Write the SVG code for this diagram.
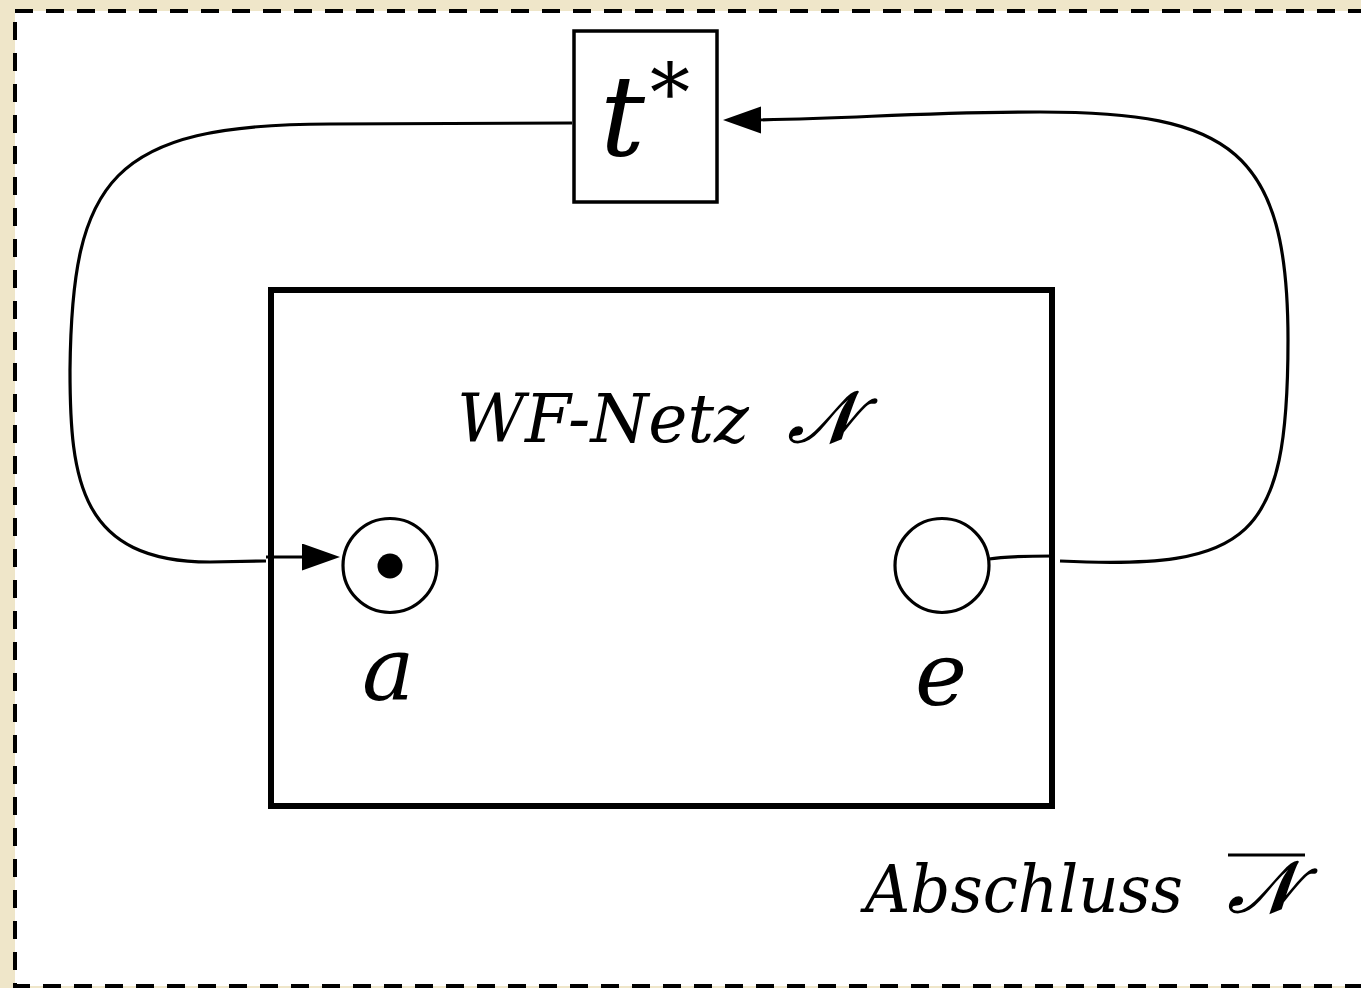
<svg xmlns="http://www.w3.org/2000/svg" width="1361" height="988" viewBox="0 0 1361 988">
<defs>
<style>
.bg{fill:#efe6c9}
.frame{fill:#ffffff;stroke:#000;stroke-width:4;stroke-dasharray:18 13}
.box{fill:#fff;stroke:#000;stroke-width:3.5}
.net{fill:none;stroke:#000;stroke-width:6}
.place{fill:#fff;stroke:#000;stroke-width:3.2}
.arc{fill:none;stroke:#000;stroke-width:3.2}
.sym{font-family:"DejaVu Serif","Liberation Serif",serif;font-style:italic;fill:#000;stroke:#000;stroke-width:1.6}
.it{font-family:"DejaVu Serif",serif;font-style:italic;fill:#000}
</style>
<marker id="arr" markerUnits="userSpaceOnUse" markerWidth="40" markerHeight="30" refX="28" refY="13.5" orient="auto">
<path d="M0,0 L38,13.5 L0,27 z" fill="#000"/>
</marker>
</defs>
<rect class="bg" x="0" y="0" width="1361" height="988"/>
<rect class="frame" x="15" y="11" width="1380" height="975"/>
<g id="node-wfnetz">
<rect class="net" x="271" y="290" width="781" height="516"/>
<text class="it" x="457" y="442" font-size="68" textLength="292" lengthAdjust="spacingAndGlyphs">WF-Netz</text>
<text class="sym" x="788" y="442" font-size="72">𝒩</text>
</g>
<g id="connectors">
<path class="arc" d="M572 123 L330 124 C110 124 72 180 70 370 C70 480 80 562 210 562 L266 561 M266 557 L330 557" marker-end="url(#arr)"/>
<path class="arc" d="M989 559 C1005 556 1030 556 1053 556"/>
<path class="arc" d="M1060 561 C1250 570 1288 540 1288 340 C1288 150 1230 112 1040 112 C900 112 850 120 733 120" marker-end="url(#arr)"/>
</g>
<g id="node-tstar">
<rect class="box" x="574" y="31" width="143" height="171"/>
<text class="it" x="600" y="155" font-size="112">t</text>
<text x="650" y="121" font-family="DejaVu Serif, serif" font-size="80">*</text>
</g>
<g id="node-a">
<circle class="place" cx="390" cy="565.5" r="47"/>
<circle cx="390" cy="566" r="12.5" fill="#000"/>
<text class="it" x="362" y="700" font-size="88">a</text>
</g>
<g id="node-e">
<circle class="place" cx="942" cy="565.5" r="47"/>
<text class="it" x="915" y="705" font-size="88">e</text>
</g>
<g id="label-abschluss">
<text class="it" x="865" y="912" font-size="66" textLength="318" lengthAdjust="spacingAndGlyphs">Abschluss</text>
<text class="sym" x="1228" y="912" font-size="72">𝒩</text>
<line x1="1228" y1="855" x2="1305" y2="855" stroke="#000" stroke-width="3"/>
</g>
</svg>
